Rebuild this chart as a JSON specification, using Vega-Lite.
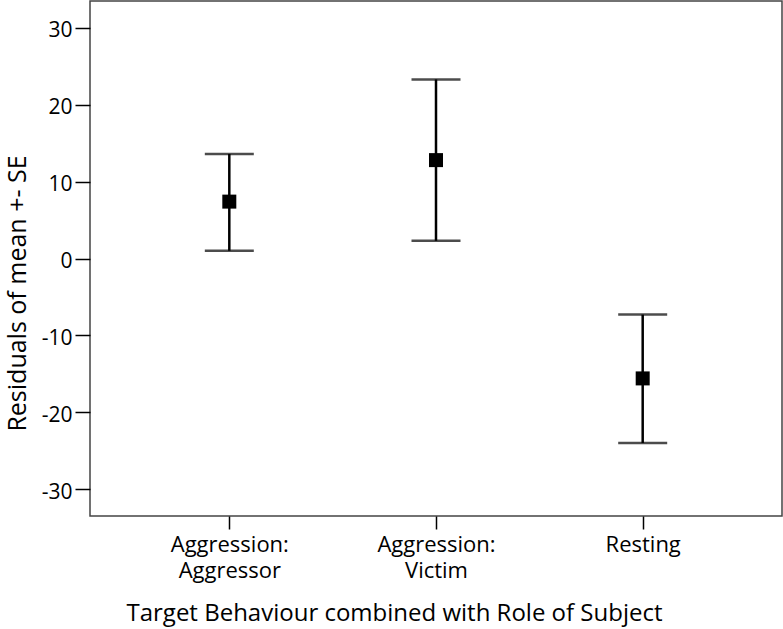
{
  "$schema": "https://vega.github.io/schema/vega-lite/v6.json",
  "width": 692,
  "height": 515,
  "autosize": {"type": "none"},
  "padding": {"left": 90, "top": 1, "right": 1, "bottom": 113},
  "background": "white",
  "config": {
    "font": "Open Sans",
    "view": {"stroke": "#444444", "strokeWidth": 1.5},
    "axis": {"grid": false, "domain": false, "tickColor": "#000000", "tickSize": 15, "tickWidth": 1.5, "labelColor": "#000000", "titleColor": "#000000", "labelFont": "Open Sans", "titleFont": "Open Sans", "labelFontSize": 21, "titleFontSize": 24, "titleFontWeight": "normal"}
  },
  "data": {
    "values": [
      {"group": "Aggression:|Aggressor", "mean": 7.4, "lower": 1.0, "upper": 13.6},
      {"group": "Aggression:|Victim", "mean": 12.8, "lower": 2.3, "upper": 23.3},
      {"group": "Resting", "mean": -15.6, "lower": -24.0, "upper": -7.3}
    ]
  },
  "encoding": {
    "x": {
      "field": "group",
      "type": "nominal",
      "sort": null,
      "scale": {"type": "point", "padding": 0.674},
      "axis": {"title": "Target Behaviour combined with Role of Subject", "labelAngle": 0, "labelFontSize": 22, "tickSize": 13, "labelExpr": "split(datum.value, '|')", "labelPadding": 5, "labelLineHeight": 26, "titleX": 304, "titleY": 104, "titleBaseline": "alphabetic", "titleAnchor": null}
    }
  },
  "layer": [
    {
      "mark": {"type": "rule", "color": "#000000", "strokeWidth": 2.5},
      "encoding": {
        "y": {"field": "lower", "type": "quantitative", "scale": {"domain": [-33.5, 33.5], "nice": false, "zero": false}, "axis": {"title": "Residuals of mean +- SE", "values": [-30, -20, -10, 0, 10, 20, 30], "labelExpr": "replace(datum.label, '−', '-')", "labelPadding": 3, "labelOffset": 3, "titleX": -65, "titleY": 292, "titleBaseline": "alphabetic", "titleAngle": -90, "titleAlign": "center", "titleFontSize": 25}},
        "y2": {"field": "upper"}
      }
    },
    {
      "mark": {"type": "tick", "color": "#000000", "size": 49, "thickness": 2.5, "orient": "horizontal"},
      "encoding": {"y": {"field": "lower", "type": "quantitative"}}
    },
    {
      "mark": {"type": "tick", "color": "#000000", "size": 49, "thickness": 2.5, "orient": "horizontal"},
      "encoding": {"y": {"field": "upper", "type": "quantitative"}}
    },
    {
      "mark": {"type": "square", "color": "#000000", "size": 196, "opacity": 1, "filled": true},
      "encoding": {"y": {"field": "mean", "type": "quantitative"}}
    }
  ]
}
